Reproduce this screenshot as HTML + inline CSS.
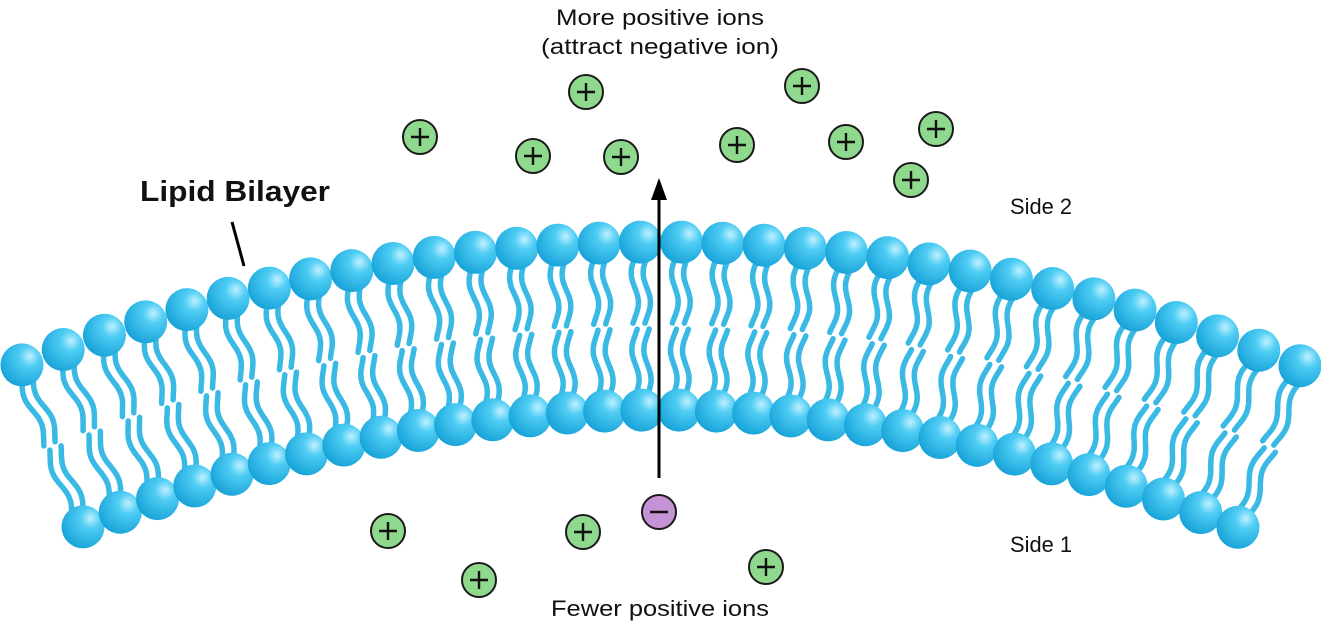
<!DOCTYPE html>
<html><head><meta charset="utf-8">
<style>
html,body{margin:0;padding:0;background:#fff;}
svg{display:block;}
text{font-family:"Liberation Sans",sans-serif;fill:#111;}
</style></head>
<body>
<svg id="s" width="1321" height="625" viewBox="0 0 1321 625" xmlns="http://www.w3.org/2000/svg">
<defs>
<radialGradient id="hg" cx="0.68" cy="0.3" r="0.8">
<stop offset="0" stop-color="#bff0ff"/>
<stop offset="0.3" stop-color="#4fcdf4"/>
<stop offset="1" stop-color="#129fd6"/>
</radialGradient>
</defs>
<g id="tails" fill="none" stroke="#3ab9e4" stroke-width="5.5" stroke-linecap="round"></g>
<g id="heads"></g>
<g id="ions"></g>
<line x1="659" y1="478" x2="659" y2="198" stroke="#000" stroke-width="3"/>
<polygon points="659,178 651,200 667,200" fill="#000"/>
<line x1="232" y1="222" x2="244" y2="266" stroke="#000" stroke-width="3"/>
<text x="556" y="25" font-size="22" textLength="208" lengthAdjust="spacingAndGlyphs">More positive ions</text>
<text x="541" y="54" font-size="22" textLength="238" lengthAdjust="spacingAndGlyphs">(attract negative ion)</text>
<text x="140" y="201" font-size="29" font-weight="bold" textLength="190" lengthAdjust="spacingAndGlyphs">Lipid Bilayer</text>
<text x="1010" y="214" font-size="22" textLength="62" lengthAdjust="spacingAndGlyphs">Side 2</text>
<text x="1010" y="552" font-size="22" textLength="62" lengthAdjust="spacingAndGlyphs">Side 1</text>
<text x="551" y="616" font-size="22" textLength="218" lengthAdjust="spacingAndGlyphs">Fewer positive ions</text>
</svg>
<script>
var NS="http://www.w3.org/2000/svg";
var T=document.getElementById("tails"),H=document.getElementById("heads"),I=document.getElementById("ions");
function el(p,tag,a){var e=document.createElementNS(NS,tag);for(var k in a)e.setAttribute(k,a[k]);p.appendChild(e);return e;}
var N=32;
var tops=[],bots=[];
for(var i=0;i<N;i++){
 var tx=22+i*(1278/31), ty=242+0.000302*(tx-660)*(tx-660);
 var bx=83+i*(1155/31), by=410+0.000351*(bx-660)*(bx-660);
 tops.push([tx,ty]);bots.push([bx,by]);
}
function wavy(x0,y0,x1,y1,off,amp){
 var dx=x1-x0,dy=y1-y0,L=Math.hypot(dx,dy),ux=dx/L,uy=dy/L,px=-uy,py=ux;
 var d="",n=24;
 for(var j=0;j<=n;j++){var t=j/n;var w=off+amp*Math.sin(t*Math.PI*2.2);
  var x=x0+dx*t+px*w,y=y0+dy*t+py*w;d+=(j?"L":"M")+x.toFixed(1)+","+y.toFixed(1);}
 return d;
}
for(var i=0;i<N;i++){
 var t=tops[i],b=bots[i];
 var mx=(t[0]+b[0])/2,my=(t[1]+b[1])/2;
 var dx=b[0]-t[0],dy=b[1]-t[1],L=Math.hypot(dx,dy),ux=dx/L,uy=dy/L;
 var s1=[t[0]+ux*16,t[1]+uy*16],e1=[mx-ux*3,my-uy*3];
 var s2=[b[0]-ux*16,b[1]-uy*16],e2=[mx+ux*3,my+uy*3];
 [-6,6].forEach(function(o){
  el(T,"path",{d:wavy(s1[0],s1[1],e1[0],e1[1],o,3.5)});
  el(T,"path",{d:wavy(s2[0],s2[1],e2[0],e2[1],o,3.5)});
 });
}
for(var i=0;i<N;i++){
 el(H,"circle",{cx:tops[i][0],cy:tops[i][1],r:21.5,fill:"url(#hg)"});
 el(H,"circle",{cx:bots[i][0],cy:bots[i][1],r:21.5,fill:"url(#hg)"});
}
var pos=[[586,92],[802,86],[420,137],[533,156],[621,157],[737,145],[846,142],[936,129],[911,180],[388,531],[583,532],[479,580],[766,567]];
pos.forEach(function(p){
 el(I,"circle",{cx:p[0],cy:p[1],r:17,fill:"#8ed98e",stroke:"#1a1a1a","stroke-width":2});
 el(I,"path",{d:"M"+(p[0]-9)+","+p[1]+"h18M"+p[0]+","+(p[1]-9)+"v18",stroke:"#111","stroke-width":2.4});
});
el(I,"circle",{cx:659,cy:512,r:17,fill:"#c692d6",stroke:"#1a1a1a","stroke-width":2});
el(I,"path",{d:"M650,512h18",stroke:"#111","stroke-width":2.4});
</script>
</body></html>
